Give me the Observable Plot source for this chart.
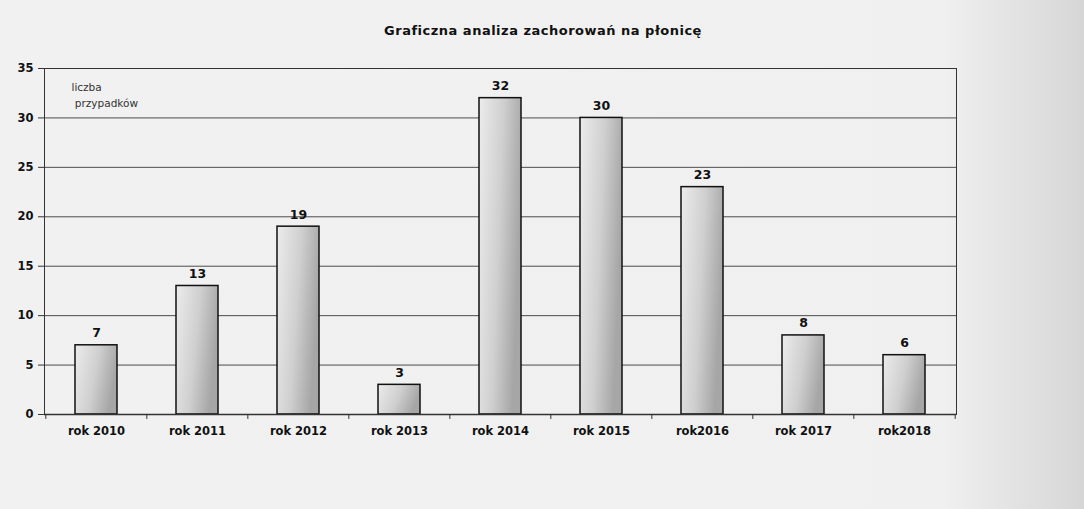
<!DOCTYPE html>
<html>
<head>
<meta charset="utf-8">
<script src="https://cdn.jsdelivr.net/npm/d3@7"></script>
<script src="https://cdn.jsdelivr.net/npm/@observablehq/plot@0.6"></script>
<style>
  html, body { margin: 0; padding: 0; }
  body {
    width: 1084px; height: 509px; overflow: hidden;
    background: linear-gradient(to right, #f1f1f1 0%, #f0f0f0 87%, #d6d6d6 100%);
    font-family: "DejaVu Sans", sans-serif;
  }
  #title {
    height: 50px; box-sizing: border-box; padding-top: 23px;
    text-align: center; font-weight: bold; font-size: 13px; line-height: 15px; color: #111;
    letter-spacing: 0.5px; padding-left: 2px;
  }
  svg { display: block; }
</style>
</head>
<body>
<div id="title">Graficzna analiza zachorowań na płonicę</div>
<div id="chart"></div>
<script>
const categories = ["rok 2010", "rok 2011", "rok 2012", "rok 2013", "rok 2014", "rok 2015", "rok2016", "rok 2017", "rok2018"];
const cases = [7, 13, 19, 3, 32, 30, 23, 8, 6];
const yTicks = [0, 5, 10, 15, 20, 25, 30, 35];
const yLabel = ["liczba", " przypadków"];

const data = categories.map((c, i) => ({category: c, value: cases[i]}));

const W = 1084, mL = 44, mR = 128;
const step = (W - mL - mR) / categories.length;

const chart = Plot.plot({
  width: W,
  height: 459,
  marginLeft: mL,
  marginRight: mR,
  marginTop: 18,
  marginBottom: 95,
  style: {background: "transparent", fontFamily: "'DejaVu Sans', sans-serif", color: "#111"},
  x: {domain: categories, paddingInner: 0.58, paddingOuter: 0.29, label: null},
  y: {domain: [0, 35], ticks: yTicks, label: null},
  marks: [
    Plot.gridY(yTicks, {stroke: "#3a3a3a", strokeOpacity: 0.9, strokeWidth: 1}),
    Plot.frame({stroke: "#333", strokeWidth: 1}),
    Plot.barY(data, {x: "category", y: "value", fill: "url(#barGrad)", stroke: "#111", strokeWidth: 1.5}),
    Plot.text(data, {x: "category", y: "value", text: d => String(d.value), dy: -12, fontWeight: "bold", fontSize: 12.5, fill: "#111"}),
    Plot.axisY(yTicks, {tickSize: 6, tickPadding: 5, fontSize: 11.5, fontWeight: "bold", stroke: "#333", fill: "#111"}),
    Plot.axisX({tickSize: 0, tickPadding: 12, fontSize: 11.5, fontWeight: "bold", fill: "#111"}),
    Plot.ruleX(categories, {x: d => d, y1: 0, y2: -0.5, dx: -step / 2, stroke: "#333", clip: false}),
    Plot.ruleX([categories[categories.length - 1]], {x: d => d, y1: 0, y2: -0.5, dx: step / 2, stroke: "#333", clip: false}),
    Plot.ruleY([0], {stroke: "#333", strokeWidth: 1.5}),
    Plot.text([yLabel.join("\n")], {frameAnchor: "top-left", dx: 27, dy: 12, lineHeight: 1.45, fontSize: 10.5, fill: "#333", textAnchor: "start"})
  ]
});

const svg = d3.select(chart);
const defs = svg.insert("defs", ":first-child");
const g = defs.append("linearGradient").attr("id", "barGrad")
  .attr("x1", "0%").attr("y1", "0%").attr("x2", "100%").attr("y2", "30%");
g.append("stop").attr("offset", "0%").attr("stop-color", "#ececec");
g.append("stop").attr("offset", "55%").attr("stop-color", "#cfcfcf");
g.append("stop").attr("offset", "100%").attr("stop-color", "#a6a6a6");

document.getElementById("chart").appendChild(chart);
</script>
</body>
</html>
